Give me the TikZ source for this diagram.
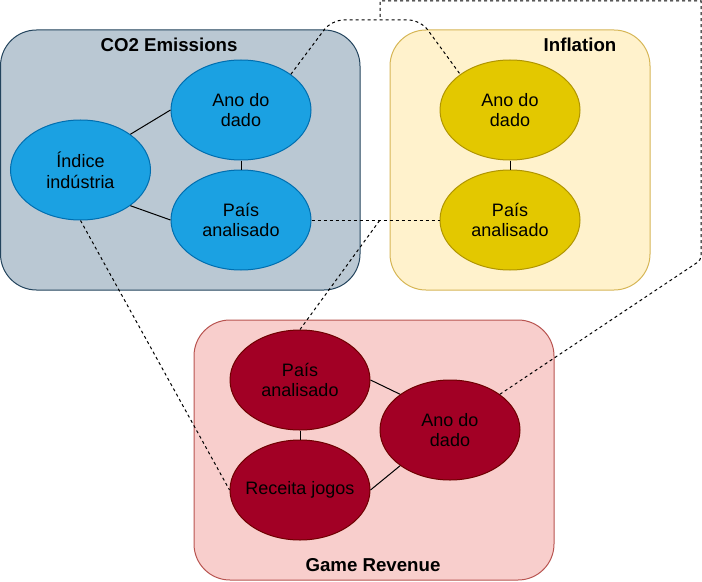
\documentclass[tikz,border=0pt]{standalone}
\usepackage{fontspec}
\setmainfont{Liberation Sans}
\usetikzlibrary{shapes.geometric}
\definecolor{coFill}{HTML}{BAC8D3}
\definecolor{coLine}{HTML}{23445D}
\definecolor{inFill}{HTML}{FFF2CC}
\definecolor{inLine}{HTML}{D6B656}
\definecolor{grFill}{HTML}{F8CECC}
\definecolor{grLine}{HTML}{B85450}
\definecolor{blueFill}{HTML}{1BA1E2}
\definecolor{blueLine}{HTML}{006EAF}
\definecolor{yelFill}{HTML}{E3C800}
\definecolor{yelLine}{HTML}{B09500}
\definecolor{redFill}{HTML}{A20025}
\definecolor{redLine}{HTML}{6F0000}
\tikzset{
  container/.style={rounded corners=27pt, line width=0.75pt},
  title/.style={font=\fontsize{14}{16}\selectfont\bfseries, inner sep=0pt},
  entity/.style={ellipse, minimum width=105pt, minimum height=75pt, inner sep=0pt, line width=0.75pt,
     align=center, font=\fontsize{13.5}{15.5}\selectfont, text=black},
  blueent/.style={entity, fill=blueFill, draw=blueLine},
  yelent/.style={entity, fill=yelFill, draw=yelLine},
  redent/.style={entity, fill=redFill, draw=redLine},
  link/.style={line width=0.75pt, black},
  dlink/.style={line width=0.75pt, black, dash pattern=on 2.25pt off 2.25pt},
}
\begin{document}
\begin{tikzpicture}[x=0.75pt,y=-0.75pt]
\useasboundingbox (0,0) rectangle (702,581);
% containers
\draw[container, fill=coFill, draw=coLine] (0.5,30) rectangle (360,290);
\node (coBox) at (180,160) {};
\draw[container, fill=inFill, draw=inLine] (390,30) rectangle (650,290);
\node (inBox) at (520,160) {};
\draw[container, fill=grFill, draw=grLine] (194,320) rectangle (554,580);
\node (grBox) at (374,450) {};
% titles
\node[title] (coT) at (169,45) {CO2 Emissions};
\node[title] (inT) at (580,45) {Inflation};
\node[title] (grT) at (373,565) {Game Revenue};
% entities
\node[blueent] (coI) at (80.5,170) {Índice\\indústria};
\node[blueent] (coA) at (241,110) {Ano do\\dado};
\node[blueent] (coP) at (241,220) {País\\analisado};
\node[yelent] (inA) at (510,110) {Ano do\\dado};
\node[yelent] (inP) at (510,220) {País\\analisado};
\node[redent] (grP) at (300,380) {País\\analisado};
\node[redent] (grR) at (300,490) {\makebox[50pt][c]{Receita jogos}};
\node[redent] (grA) at (450,430) {Ano do\\dado};
% solid links
\draw[link] (coI.north east) -- (coA.west);
\draw[link] (coI.south east) -- (coP.west);
\draw[link] (coA.south) -- (coP.north);
\draw[link] (inA.south) -- (inP.north);
\draw[link] (grP.south) -- (grR.north);
\draw[link] (grP.east) -- (grA.north west);
\draw[link] (grR.east) -- (grA.south west);
% dashed links
\coordinate (jP) at (380,220);
\coordinate (jA) at (380,20);
\draw[dlink] (coP.east) -- (inP.west);
\draw[dlink] (grP.north) -- (jP);
\draw[dlink] (coI.south) -- (grR.west);
\draw[dlink, rounded corners=9pt] (coA.north east) -- (331.5,20) -- (420.5,20) -- (inA.north west);
\draw[dlink] (grA.north east) [rounded corners=3pt] -- (701,260) [sharp corners] -- (701,1) -- (380,1) -- (jA);
\end{tikzpicture}
\end{document}
